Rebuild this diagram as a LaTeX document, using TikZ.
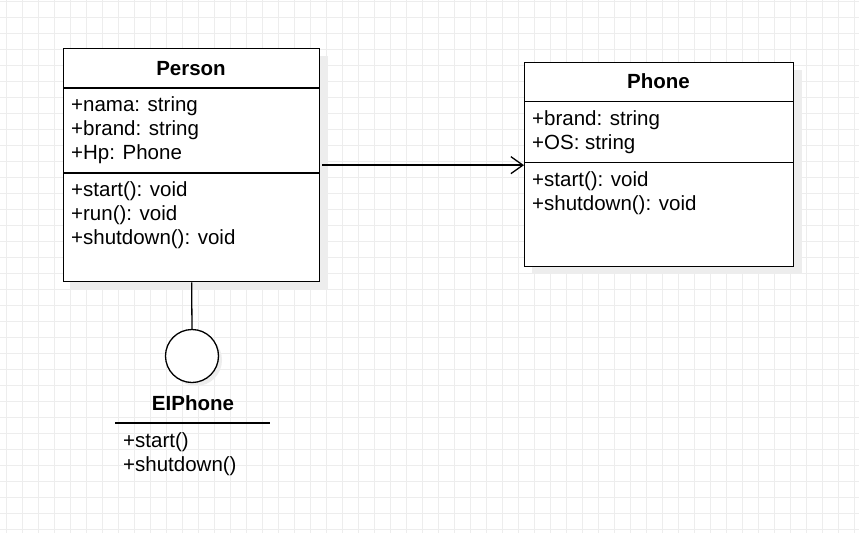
\documentclass[tikz,border=0pt]{standalone}
\usepackage{fontspec}
\setmainfont{Liberation Sans}
\usetikzlibrary{arrows.meta}

\begin{document}
\begin{tikzpicture}[x=1pt, y=-1pt]
    \tikzset{
        gridline/.style={draw=black!7, line width=0.8pt},
        classbox/.style={
            draw=black, line width=1.3pt, fill=white, rectangle,
            inner sep=0pt, anchor=north west,
        },
        shade/.style={fill=black!7, draw=none},
        title/.style={font=\fontsize{20.5}{23}\selectfont\bfseries, inner sep=0pt},
        members/.style={
            font=\fontsize{20.5}{24}\selectfont, align=left,
            anchor=north west, inner sep=0pt,
        },
        umlarrow/.style={-{Straight Barb[length=12pt, width=17pt, line width=1.3pt]}, line width=1.5pt},
    }

    % Background grid
    \useasboundingbox (0,0) rectangle (859,533);
    \fill[white] (0,0) rectangle (859,533);
    \foreach \x in {0,...,53} {
        \draw[gridline] (6.7+16*\x, 0) -- (6.7+16*\x, 533);
    }
    \foreach \y in {0,...,33} {
        \draw[gridline] (0, 1+16*\y) -- (859, 1+16*\y);
    }

    % Shadows
    \fill[shade] (71,56) rectangle (328,289);
    \fill[shade] (532,70) rectangle (802,274);
    \fill[shade] (196,360) circle (26);

    % Person
    \node[classbox, minimum width=256pt, minimum height=233pt] (person) at (63,48) {};
    \draw[line width=1.3pt] (63,88) -- (319,88);
    \draw[line width=1.3pt] (63,173) -- (319,173);
    \node[title] (person-name) at (191,69) {Person};
    \node[members] (person-attrs) at (71,96) {+nama: string\\+brand: string\\+Hp: Phone};
    \node[members] (person-ops) at (71,181) {+start(): void\\+run(): void\\+shutdown(): void};

    % Phone
    \node[classbox, minimum width=269pt, minimum height=204pt] (phone) at (524,62) {};
    \draw[line width=1.3pt] (524,101.5) -- (793,101.5);
    \draw[line width=1.3pt] (524,162.5) -- (793,162.5);
    \node[title] (phone-name) at (658.5,81) {Phone};
    \node[members] (phone-attrs) at (532,110) {+brand: string\\+OS: string};
    \node[members] (phone-ops) at (532,171) {+start(): void\\+shutdown(): void};

    % EIPhone interface
    \node[draw=black, line width=1.3pt, fill=white, circle, minimum size=53pt, inner sep=0pt] (eiphone) at (192,356) {};
    \node[title] (eiphone-name) at (193,403) {EIPhone};
    \draw[line width=1.3pt] (115,423) -- (270,423);
    \node[members] (eiphone-ops) at (123,432) {+start()\\+shutdown()};

    % Relations
    \draw[umlarrow] (person.east) ++(2,0) -- (person.east -| phone.west);
    \draw[line width=1.3pt] (person.south) -- (eiphone.north);
\end{tikzpicture}
\end{document}
